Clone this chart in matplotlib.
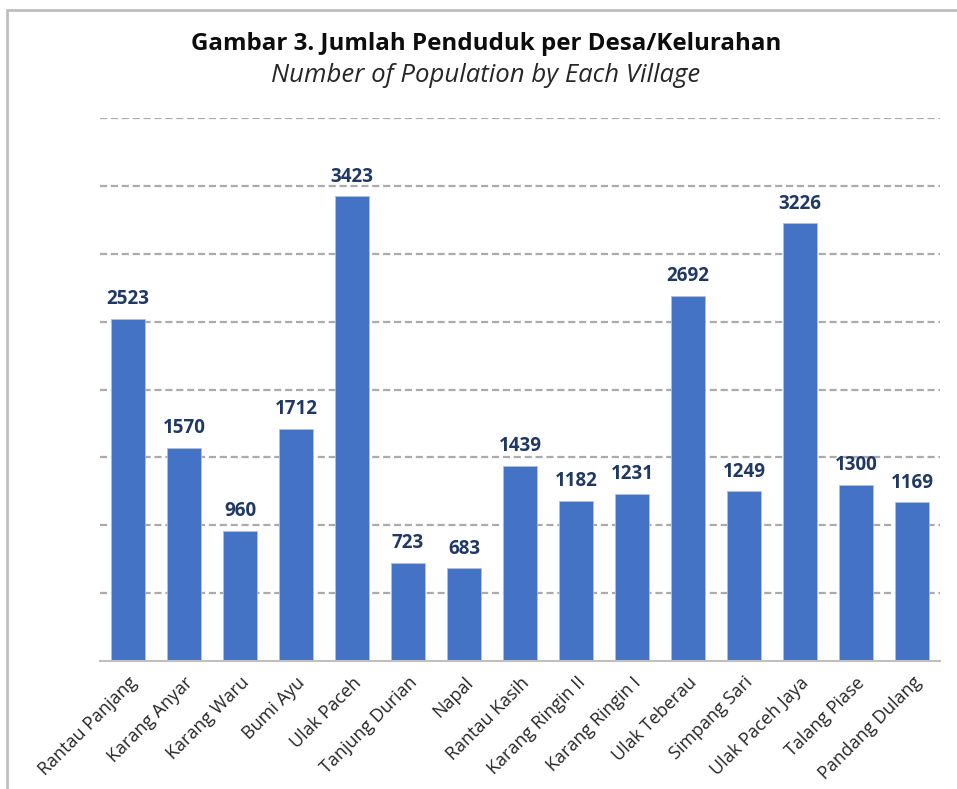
import matplotlib.pyplot as plt
from matplotlib.patches import Rectangle

villages = ['Rantau Panjang', 'Karang Anyar', 'Karang Waru', 'Bumi Ayu', 'Ulak Paceh',
            'Tanjung Durian', 'Napal', 'Rantau Kasih', 'Karang Ringin II', 'Karang Ringin I',
            'Ulak Teberau', 'Simpang Sari', 'Ulak Paceh Jaya', 'Talang Piase', 'Pandang Dulang']
population = [2523, 1570, 960, 1712, 3423, 723, 683, 1439, 1182, 1231, 2692, 1249, 3226, 1300, 1169]
grid_values = [500, 1000, 1500, 2000, 2500, 3000, 3500, 4000]

BAR = '#4472C4'
LABEL = '#1F3864'
FONT = 'Open Sans'

fig = plt.figure(figsize=(9.57, 7.89), dpi=100)
fig.patch.set_facecolor('w')

# outer frame (cropped on the right and bottom)
fig.patches.append(Rectangle((7 / 957, -0.1), 1.2, 1 - 10 / 789 + 0.1,
                             transform=fig.transFigure, fill=False,
                             edgecolor='#BFBFBF', lw=2))

ax = fig.add_axes([100 / 957, 1 - 661 / 789, 840 / 957, 543 / 789])

x = range(len(villages))
ax.bar(x, population, width=0.59, color=BAR, edgecolor='#BFBFBF', linewidth=0.6, zorder=3)

for xi, v in zip(x, population):
    ax.text(xi, v + 70, str(v), ha='center', va='bottom', fontsize=13.5,
            fontweight='bold', color=LABEL, family=FONT, zorder=4)

for g in grid_values:
    ax.axhline(g, color='#ABABAB', lw=1.6, ls=(0, (3.2, 1.7)), zorder=1)

ax.set_xlim(-0.5, len(villages) - 0.5)
ax.set_ylim(0, 4000)
ax.set_yticks([])
ax.spines[['left', 'right', 'top']].set_visible(False)
ax.spines['bottom'].set_color('#BFBFBF')
ax.spines['bottom'].set_linewidth(1.5)
ax.spines['bottom'].set_zorder(5)

ax.set_xticks(list(x))
ax.set_xticklabels(villages, rotation=45, ha='right', rotation_mode='anchor',
                   fontsize=13, family=FONT, color='#262626')
ax.tick_params(axis='x', length=0, pad=9)

fig.text(486 / 957, 1 - 44 / 789, 'Gambar 3. Jumlah Penduduk per Desa/Kelurahan',
         ha='center', va='center', fontsize=17.4, fontweight='bold', family=FONT, color='#0D0D0D')
fig.text(486 / 957, 1 - 75 / 789, 'Number of Population by Each Village',
         ha='center', va='center', fontsize=18.5, style='italic', family=FONT, color='#262626')

plt.savefig('out.png', dpi=100)
